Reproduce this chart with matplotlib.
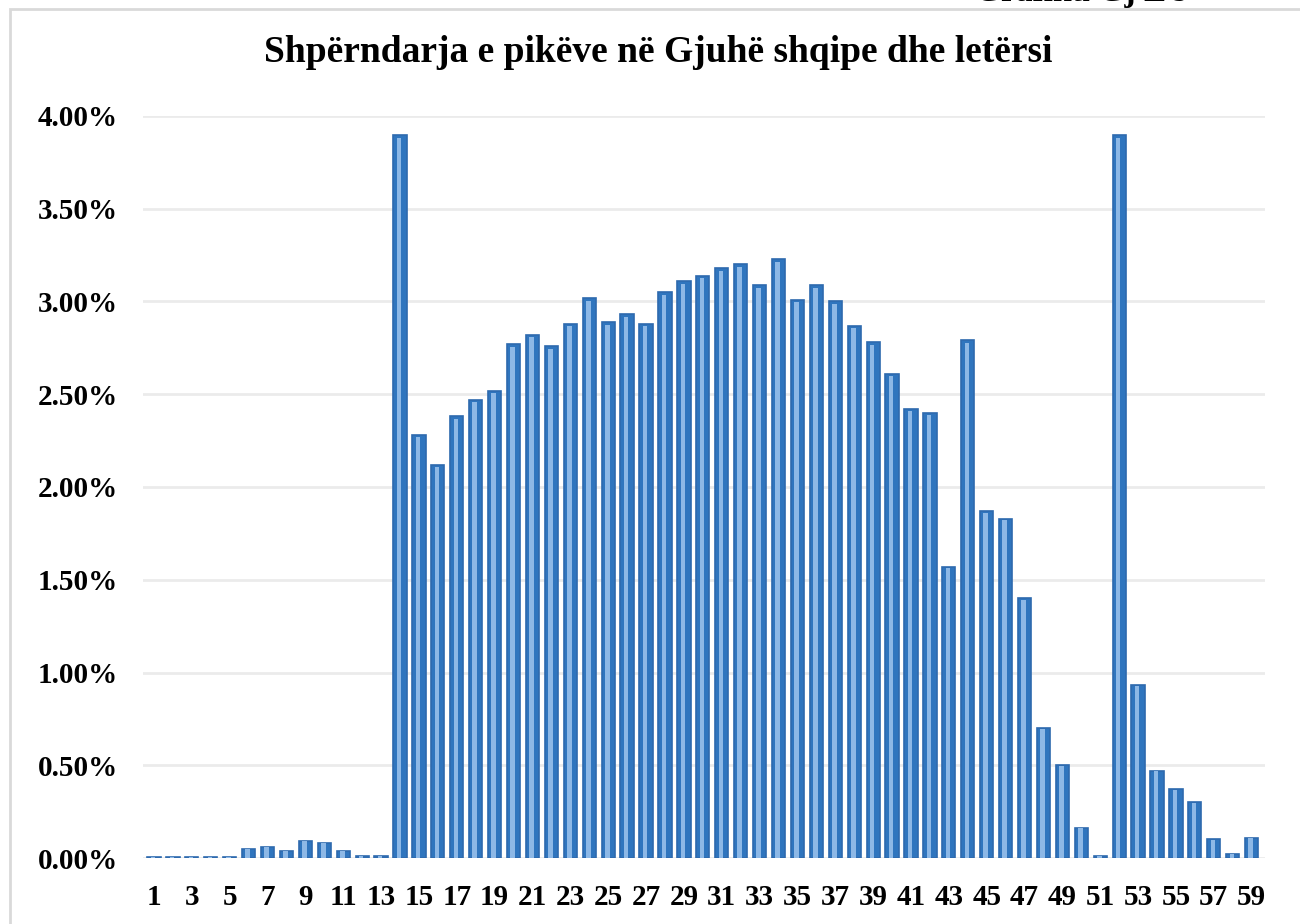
import numpy as np
import matplotlib
matplotlib.use("Agg")
import matplotlib.pyplot as plt
from matplotlib.patches import Rectangle
from matplotlib.ticker import PercentFormatter

plt.rcParams["font.family"] = ["Liberation Serif", "DejaVu Serif"]
plt.rcParams["font.weight"] = "bold"

# piket 1..59 dhe perqindja e nxenesve
points = list(range(1, 60))
share = [0.005, 0.005, 0.005, 0.005, 0.006, 0.05, 0.06, 0.04, 0.09, 0.08,
         0.04, 0.01, 0.01, 3.90, 2.28, 2.12, 2.38, 2.47, 2.52, 2.77,
         2.82, 2.76, 2.88, 3.02, 2.89, 2.93, 2.88, 3.05, 3.11, 3.14,
         3.18, 3.20, 3.09, 3.23, 3.01, 3.09, 3.00, 2.87, 2.78, 2.61,
         2.42, 2.40, 1.57, 2.79, 1.87, 1.83, 1.40, 0.70, 0.50, 0.16,
         0.01, 3.90, 0.93, 0.47, 0.37, 0.30, 0.10, 0.02, 0.11]
tick_labels = [str(p) for p in points[::2]]

title = "Shpërndarja e pikëve në Gjuhë shqipe dhe letërsi"

x = np.array(points)
y = np.array(share) / 100.0

fig = plt.figure(figsize=(13, 9.24), dpi=100)
ax = fig.add_axes([0.110, 0.0714, 0.863, 0.8031])

# kornize e grafikut
fig.patches.append(Rectangle((10 / 1300, -0.05), 1.1, 1 - 9 / 924 + 0.05,
                             transform=fig.transFigure, fill=False,
                             edgecolor="#D9D9D9", lw=2, zorder=0))
fig.text(0.75, 1 - 8 / 924, "Grafiku Gj L 9", ha="left", va="bottom",
         fontsize=24, fontweight="bold")

# shtylla me pamje "bevel"
ax.bar(x, y, width=0.7, color="#2F75BE", edgecolor="#2E6AAE", lw=1.2, zorder=3)
ax.bar(x - 0.05, y * 0.995, width=0.24, color="#8DB8E6", lw=0, zorder=4)

ax.set_xlim(0.42, 59.7)
ax.set_ylim(0, 0.04)
ax.set_yticks(np.arange(0, 0.0401, 0.005))
ax.yaxis.set_major_formatter(PercentFormatter(1.0, decimals=2))
ax.set_xticks(points[::2])
ax.set_xticklabels(tick_labels)

ax.grid(axis="y", color="#EBEBEB", lw=2, zorder=0)
for s in ax.spines.values():
    s.set_visible(False)
ax.tick_params(length=0, labelsize=21)
ax.tick_params(axis="x", pad=19)
ax.tick_params(axis="y", pad=18)
for lab in ax.get_xticklabels() + ax.get_yticklabels():
    lab.set_fontweight("bold")

fig.text(0.506, 1 - 52 / 924, title, ha="center", va="center",
         fontsize=27, fontweight="bold")

plt.savefig("out.png", dpi=100)
plt.close()
